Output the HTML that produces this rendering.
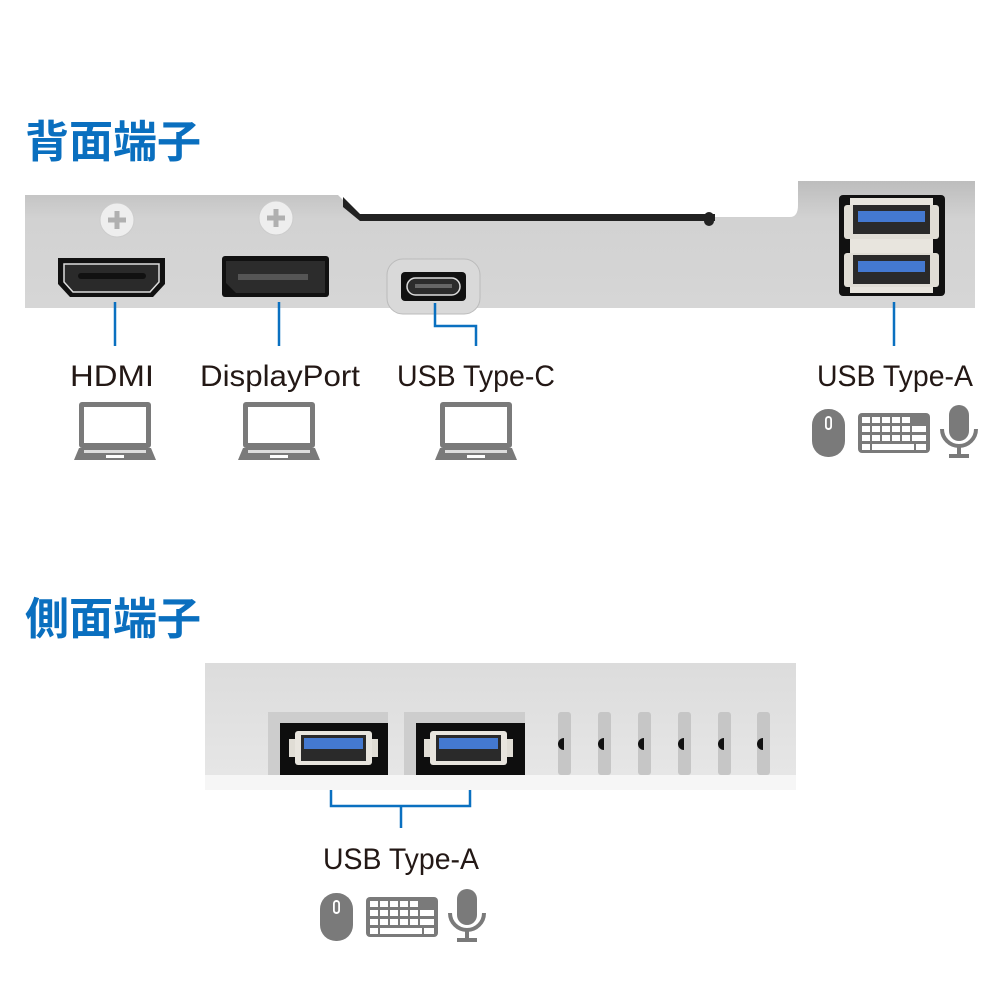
<!DOCTYPE html>
<html><head><meta charset="utf-8"><style>
html,body{margin:0;padding:0;background:#fff;}
svg{display:block;}
text{font-family:"Liberation Sans","Noto Sans CJK JP",sans-serif;}
</style></head><body>
<svg width="1000" height="1000" viewBox="0 0 1000 1000" xmlns="http://www.w3.org/2000/svg">
<defs>
<linearGradient id="pg" x1="0" y1="0" x2="0" y2="1"><stop offset="0" stop-color="#bdbdbd"/><stop offset="0.3" stop-color="#d2d2d2"/><stop offset="1" stop-color="#d6d6d6"/></linearGradient>
<linearGradient id="sg" x1="0" y1="0" x2="0" y2="1"><stop offset="0" stop-color="#dcdcdc"/><stop offset="1" stop-color="#e6e6e6"/></linearGradient>
<g id="laptop" fill="#7a7a7a">
<rect x="5" y="0" width="72" height="46" rx="3"/>
<rect x="10" y="5" width="62" height="36" fill="#fff"/>
<path d="M5 46 H77 L82 58 H0 Z"/>
<rect x="10" y="48" width="62" height="3" fill="#ddd"/>
<rect x="32" y="53" width="18" height="3" fill="#fff"/>
</g>
<g id="icons" fill="#7a7a7a">
<rect x="0" y="0" width="33" height="48" rx="16"/>
<rect x="13" y="7" width="7" height="14" rx="3.5" fill="#fff"/>
<rect x="14.8" y="9" width="3.4" height="10" rx="1.7" fill="#7a7a7a"/>
<rect x="46" y="4" width="72" height="40" rx="4"/>
<g fill="#fff">
<rect x="50" y="8" width="8" height="6"/><rect x="60" y="8" width="8" height="6"/><rect x="70" y="8" width="8" height="6"/><rect x="80" y="8" width="8" height="6"/><rect x="90" y="8" width="8" height="6"/>
<rect x="50" y="17" width="8" height="6"/><rect x="60" y="17" width="8" height="6"/><rect x="70" y="17" width="8" height="6"/><rect x="80" y="17" width="8" height="6"/><rect x="90" y="17" width="8" height="6"/><rect x="100" y="17" width="14" height="6"/>
<rect x="50" y="26" width="8" height="6"/><rect x="60" y="26" width="8" height="6"/><rect x="70" y="26" width="8" height="6"/><rect x="80" y="26" width="8" height="6"/><rect x="90" y="26" width="8" height="6"/><rect x="100" y="26" width="14" height="6"/>
<rect x="50" y="35" width="8" height="6"/><rect x="60" y="35" width="42" height="6"/><rect x="104" y="35" width="10" height="6"/>
</g>
<rect x="137" y="-4" width="20" height="36" rx="10"/>
<path d="M130 20 a17 17 0 0 0 34 0" fill="none" stroke="#7a7a7a" stroke-width="4"/>
<rect x="145" y="36" width="4" height="10"/>
<rect x="137" y="45" width="20" height="4"/>
</g>
<g id="usba">
<rect x="-8" y="4" width="8" height="18" fill="#e0ddd5"/>
<rect x="73" y="4" width="8" height="18" fill="#e0ddd5"/>
<rect x="-2" y="-4" width="77" height="34" rx="3" fill="#e8e5de"/>
<rect x="4" y="0" width="65" height="26" fill="#2a2a2a"/>
<rect x="7" y="3" width="59" height="11" fill="#4479d0"/>
</g>
</defs>

<text x="25" y="157" font-size="44" font-weight="bold" fill="#0a6fbf">背面端子</text>

<path d="M25 195 H338 L360 217 H790 Q798 217 798 205 V181 H975 V308 H25 Z" fill="url(#pg)"/>
<path d="M343 197 L360 214 H715 V221 H360 L343 207 Z" fill="#222"/>
<rect x="704" y="212" width="10" height="14" rx="5" fill="#222"/>

<circle cx="117" cy="220" r="17" fill="#eeeeee" stroke="#ccc"/>
<path d="M117 211 V229 M108 220 H126" stroke="#b0b0b0" stroke-width="5"/>
<circle cx="276" cy="218" r="17" fill="#eeeeee" stroke="#ccc"/>
<path d="M276 209 V227 M267 218 H285" stroke="#b0b0b0" stroke-width="5"/>

<path d="M58 258 H165 V284 L153 297 H70 L58 284 Z" fill="#111"/>
<path d="M64 264 H159 V282 L150 292 H73 L64 282 Z" fill="#2a2a2a" stroke="#ddd" stroke-width="1.5"/>
<rect x="78" y="273" width="68" height="6" rx="3" fill="#111"/>
<rect x="222" y="256" width="107" height="41" rx="3" fill="#111"/>
<path d="M226 261 H325 V293 H236 L226 283 Z" fill="#2c2c2c"/>
<rect x="238" y="274" width="70" height="6" fill="#555"/>
<rect x="387" y="259" width="93" height="55" rx="16" fill="#d9d9d9" stroke="#bbb"/>
<rect x="401" y="272" width="65" height="29" rx="4" fill="#111"/>
<rect x="407" y="278" width="53" height="17" rx="8.5" fill="#2c2c2c" stroke="#ddd" stroke-width="1.5"/>
<rect x="415" y="284" width="37" height="4" fill="#666"/>

<rect x="839" y="195" width="106" height="101" rx="4" fill="#111"/>
<rect x="850" y="198" width="83" height="95" fill="#e8e5de"/>
<rect x="844" y="205" width="95" height="34" rx="3" fill="#e0ddd5"/>
<rect x="844" y="253" width="95" height="34" rx="3" fill="#e0ddd5"/>
<rect x="853" y="205" width="77" height="29" fill="#2a2a2a"/>
<rect x="858" y="211" width="67" height="11" fill="#4479d0"/>
<rect x="853" y="255" width="77" height="29" fill="#2a2a2a"/>
<rect x="858" y="261" width="67" height="11" fill="#4479d0"/>

<g stroke="#0a70c0" stroke-width="2.5" fill="none">
<path d="M115 302 V346"/>
<path d="M279 302 V346"/>
<path d="M435 303 V326 H476 V346"/>
<path d="M894 302 V346"/>
<path d="M331 783 V806 H470 V783 M401 806 V828"/>
</g>

<g font-size="30" fill="#231815" text-anchor="middle">
<text x="112" y="386" textLength="84" lengthAdjust="spacingAndGlyphs">HDMI</text>
<text x="280" y="386" textLength="160" lengthAdjust="spacingAndGlyphs">DisplayPort</text>
<text x="476" y="386" textLength="158" lengthAdjust="spacingAndGlyphs">USB Type-C</text>
<text x="895" y="386" textLength="156" lengthAdjust="spacingAndGlyphs">USB Type-A</text>
<text x="401" y="869" textLength="156" lengthAdjust="spacingAndGlyphs">USB Type-A</text>
</g>

<use href="#laptop" x="74" y="402"/>
<use href="#laptop" x="238" y="402"/>
<use href="#laptop" x="435" y="402"/>
<use href="#icons" x="812" y="409"/>
<use href="#icons" x="320" y="893"/>

<text x="25" y="634" font-size="44" font-weight="bold" fill="#0a6fbf">側面端子</text>

<rect x="205" y="663" width="591" height="112" fill="url(#sg)"/>
<rect x="205" y="775" width="591" height="15" fill="#f6f6f6"/>
<rect x="268" y="712" width="120" height="63" fill="#cdcdcd"/>
<rect x="280" y="723" width="108" height="52" fill="#0e0e0e"/>
<use href="#usba" x="297" y="735"/>
<rect x="404" y="712" width="121" height="63" fill="#cdcdcd"/>
<rect x="416" y="723" width="109" height="52" fill="#0e0e0e"/>
<use href="#usba" x="432" y="735"/>
<g fill="#c6c6c6">
<rect x="558" y="712" width="13" height="63" rx="3"/>
<rect x="598" y="712" width="13" height="63" rx="3"/>
<rect x="638" y="712" width="13" height="63" rx="3"/>
<rect x="678" y="712" width="13" height="63" rx="3"/>
<rect x="718" y="712" width="13" height="63" rx="3"/>
<rect x="757" y="712" width="13" height="63" rx="3"/>
</g>
<g fill="#111">
<path d="M564 738 a6 6 0 0 0 0 12 Z"/><path d="M604 738 a6 6 0 0 0 0 12 Z"/><path d="M644 738 a6 6 0 0 0 0 12 Z"/>
<path d="M684 738 a6 6 0 0 0 0 12 Z"/><path d="M724 738 a6 6 0 0 0 0 12 Z"/><path d="M763 738 a6 6 0 0 0 0 12 Z"/>
</g>
</svg>
</body></html>
